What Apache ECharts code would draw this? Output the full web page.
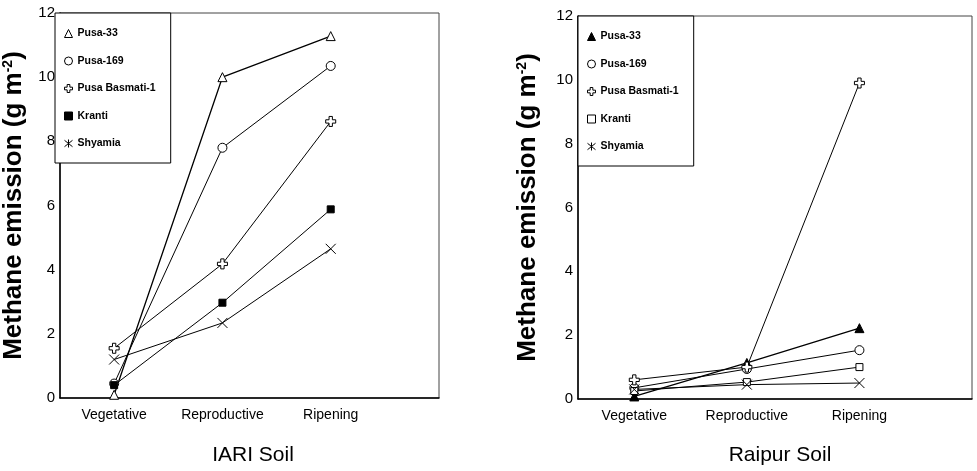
<!DOCTYPE html>
<html><head><meta charset="utf-8">
<script src="https://cdn.jsdelivr.net/npm/echarts@6/dist/echarts.min.js"></script>
<style>html,body{margin:0;padding:0;background:#fff}#c{width:977px;height:471px}</style>
</head><body><div id="c"></div>
<script>
// ---- data ----
var categories = ['Vegetative', 'Reproductive', 'Ripening'];
var seriesNames = ['Pusa-33', 'Pusa-169', 'Pusa Basmati-1', 'Kranti', 'Shyamia'];
var panelTitles = ['IARI Soil', 'Raipur Soil'];
var yTicks = [0, 2, 4, 6, 8, 10, 12];

var iariPusa33   = [0.1, 10.0, 11.28];
var iariPusa169  = [0.45, 7.8, 10.35];
var iariBasmati  = [1.55, 4.18, 8.62];
var iariKranti   = [0.4, 2.97, 5.88];
var iariShyamia  = [1.2, 2.34, 4.65];

var raipurPusa33  = [0.08, 1.13, 2.22];
var raipurPusa169 = [0.35, 0.94, 1.53];
var raipurBasmati = [0.6, 1.0, 9.9];
var raipurKranti  = [0.25, 0.53, 1.0];
var raipurShyamia = [0.3, 0.45, 0.5];

// ---- styles ----
var SANS = '"Liberation Sans",Arial,sans-serif';
var CROSS = 'path://M3,0L6,0L6,3L9,3L9,6L6,6L6,9L3,9L3,6L0,6L0,3L3,3Z';
var XMARK = 'path://M0,0L10,10M10,0L0,10';
var ASTER = 'path://M0,1L10,9M10,1L0,9M5,0L5,10';
var EMPTY = {color: '#fff', borderColor: '#000', borderWidth: 1};
var FILLED = {color: '#000', borderColor: '#000', borderWidth: 1};

function pts(vals) { return vals.map(function (v, i) { return [i + 0.5, v]; }); }

var iariData = [iariPusa33, iariPusa169, iariBasmati, iariKranti, iariShyamia];
var raipurData = [raipurPusa33, raipurPusa169, raipurBasmati, raipurKranti, raipurShyamia];
var symbolsL = [['triangle', 9, EMPTY], ['circle', 9, EMPTY], [CROSS, 10, EMPTY], ['rect', 7, FILLED], [XMARK, 10, EMPTY]];
var symbolsR = [['triangle', 9, FILLED], ['circle', 9, EMPTY], [CROSS, 10, EMPTY], ['rect', 7, EMPTY], [XMARK, 10, EMPTY]];
var legendIconsL = [['triangle', EMPTY], ['circle', EMPTY], [CROSS, EMPTY], ['rect', FILLED], [ASTER, EMPTY]];
var legendIconsR = [['triangle', FILLED], ['circle', EMPTY], [CROSS, EMPTY], ['rect', EMPTY], [ASTER, EMPTY]];

var series = [];
[iariData, raipurData].forEach(function (panel, p) {
  var syms = p === 0 ? symbolsL : symbolsR;
  panel.forEach(function (vals, k) {
    series.push({
      type: 'line', name: seriesNames[k], id: 'p' + p + 's' + k,
      xAxisIndex: p, yAxisIndex: p,
      data: pts(vals),
      symbol: syms[k][0], symbolSize: syms[k][1],
      itemStyle: syms[k][2],
      lineStyle: {color: '#000', width: k === 0 ? 1.3 : 1},
      animation: false, z: 3
    });
  });
});

function legendFor(p, left, top) {
  var icons = p === 0 ? legendIconsL : legendIconsR;
  return {
    orient: 'vertical', left: left, top: top,
    data: seriesNames.map(function (n, k) {
      return {name: n, icon: icons[k][0], itemStyle: icons[k][1]};
    }),
    itemWidth: 8, itemHeight: 8, itemGap: 16.5,
    padding: [15, 15, 14, 9],
    borderColor: '#000', borderWidth: 1, backgroundColor: '#fff',
    selectedMode: false,
    textStyle: {fontFamily: SANS, fontSize: 10.5, fontWeight: 'bold', color: '#000'},
    inactiveColor: '#000'
  };
}

function xAxisFor(p) {
  return {
    type: 'value', gridIndex: p, min: 0, max: 3.5, interval: 0.5,
    axisLine: {show: true, onZero: false, lineStyle: {color: '#000', width: 1.5}},
    axisTick: {show: false}, splitLine: {show: false},
    axisLabel: {
      color: '#000', fontFamily: SANS, fontSize: 14, margin: 10,
      formatter: function (v) {
        var i = v - 0.5;
        return (Math.abs(i - Math.round(i)) < 1e-6 && categories[Math.round(i)]) ? categories[Math.round(i)] : '';
      }
    }
  };
}

function yAxisFor(p, gap) {
  return {
    type: 'value', gridIndex: p, min: 0, max: 12, interval: 2,
    axisLine: {show: true, lineStyle: {color: '#000', width: 1.5}},
    axisTick: {show: false}, splitLine: {show: false},
    axisLabel: {color: '#000', fontFamily: SANS, fontSize: 15, margin: 5,
      formatter: function (v) { return yTicks.indexOf(v) >= 0 ? String(v) : ''; }},
    name: 'Methane emission (g m{sup|-2})',
    nameLocation: 'middle', nameGap: gap, nameRotate: 90,
    nameTextStyle: {fontFamily: SANS, fontSize: 26, fontWeight: 'bold', color: '#000',
      rich: {sup: {fontFamily: SANS, fontSize: 14, fontWeight: 'bold', color: '#000', verticalAlign: 'top', padding: [0, 0, 12, 0]}}}
  };
}

var option = {
  backgroundColor: '#fff',
  animation: false,
  title: [
    {text: panelTitles[0], left: 248, top: 440, textAlign: 'center',
      textStyle: {fontFamily: SANS, fontSize: 21, fontWeight: 'normal', color: '#000'}},
    {text: panelTitles[1], left: 775, top: 440, textAlign: 'center',
      textStyle: {fontFamily: SANS, fontSize: 21, fontWeight: 'normal', color: '#000'}}
  ],
  grid: [
    {left: 55, top: 13, width: 384, height: 385, show: true, borderColor: '#444', borderWidth: 1, backgroundColor: 'transparent'},
    {left: 578, top: 16, width: 394, height: 383, show: true, borderColor: '#444', borderWidth: 1, backgroundColor: 'transparent'}
  ],
  xAxis: [xAxisFor(0), xAxisFor(1)],
  yAxis: [yAxisFor(0, 33), yAxisFor(1, 37)],
  legend: [legendFor(0, 55, 13), legendFor(1, 578, 16)],
  series: series
};

var chart = echarts.init(document.getElementById('c'), null, {renderer: 'canvas'});
chart.setOption(option);
</script>
</body></html>
